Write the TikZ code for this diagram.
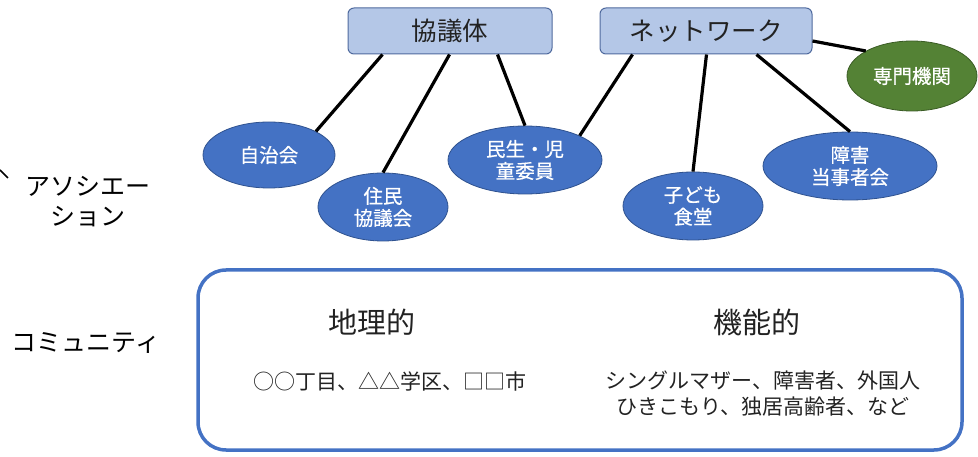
\documentclass[tikz,border=0pt]{standalone}
\usepackage{fontspec}
\setmainfont{Noto Sans CJK JP}
\newfontfamily\ellfont[FakeBold=0.6]{Noto Sans CJK JP}
\usetikzlibrary{shapes.geometric}
\definecolor{ellblue}{HTML}{4472C4}
\definecolor{ellborder}{HTML}{2F528F}
\definecolor{boxfill}{HTML}{B4C7E7}
\definecolor{boxborder}{HTML}{4F6A9E}
\definecolor{grn}{HTML}{548235}
\definecolor{grnborder}{HTML}{3B5C25}
\definecolor{txt}{HTML}{222222}
\tikzset{
  topbox/.style={draw=boxborder, fill=boxfill, line width=1pt, rounded corners=6pt, minimum width=#1, minimum height=46pt, inner sep=0pt, font=\fontsize{25.5}{28}\selectfont, text=txt},
  ell/.style={ellipse, draw=ellborder, fill=ellblue, line width=0.8pt, inner sep=0pt, text=white, align=center, font=\ellfont\fontsize{19.5}{22}\selectfont},
  link/.style={line width=3.2pt, black},
  lbl/.style={font=\fontsize{25}{30}\selectfont, text=black, align=center},
}
\begin{document}
\begin{tikzpicture}[x=1pt,y=-1pt]
\useasboundingbox (0,0) rectangle (978,457);
% top boxes
\node[topbox=204pt] (kyo) at (450,31) {協議体};
\node[topbox=212pt] (net) at (706,31) {ネットワーク};
% ellipses
\node[ell, minimum width=132pt, minimum height=66pt] (jichi) at (269,155) {自治会};
\node[ell, minimum width=130pt, minimum height=68pt] (jumin) at (383,207) {住民\\協議会};
\node[ell, minimum width=154pt, minimum height=68pt] (minsei) at (525,160) {民生・児\\童委員};
\node[ell, minimum width=140pt, minimum height=68pt] (kodomo) at (693,206) {子ども\\食堂};
\node[ell, minimum width=174pt, minimum height=68pt] (shogai) at (850,166) {障害\\当事者会};
\node[ell, draw=grnborder, fill=grn, minimum width=130pt, minimum height=70pt] (senmon) at (912,76) {専門機関};
% links
\draw[link] ([xshift=35pt]kyo.south west) -- (jichi.north east);
\draw[link] ([xshift=102pt]kyo.south west) -- (jumin.north);
\draw[link] ([xshift=150pt]kyo.south west) -- (minsei.north);
\draw[link] ([xshift=33pt]net.south west) -- (minsei.north east);
\draw[link] ([xshift=107pt]net.south west) -- (kodomo.north);
\draw[link] ([xshift=157pt]net.south west) -- (shogai.north);
\draw[link] ([yshift=-10pt]net.east) -- (senmon.north west);
% fragment at left edge
\coordinate (fragA) at (0,170);
\coordinate (fragB) at (8,178);
\draw[line width=1.5pt, black] (fragA) -- (fragB);
% left labels
\node[lbl] (assoc) at (88,202) {アソシエー\\ション};
\node[lbl] (comm) at (86,343) {コミュニティ};
% community frame
\node[draw=ellblue, line width=3.5pt, rounded corners=28pt, minimum width=764pt, minimum height=180pt, inner sep=0pt] (frame) at (580,360) {};
\node[font=\fontsize{29}{32}\selectfont, text=txt] (geo) at (372,322) {地理的};
\node[font=\fontsize{29}{32}\selectfont, text=txt] (func) at (757,322) {機能的};
\node[font=\fontsize{21}{26}\selectfont, text=txt] (geoex) at (390,381) {○○丁目、△△学区、□□市};
\node[font=\fontsize{21}{26}\selectfont, text=txt, align=center] (funcex) at (763,394) {シングルマザー、障害者、外国人\\ひきこもり、独居高齢者、など};
\end{tikzpicture}
\end{document}
